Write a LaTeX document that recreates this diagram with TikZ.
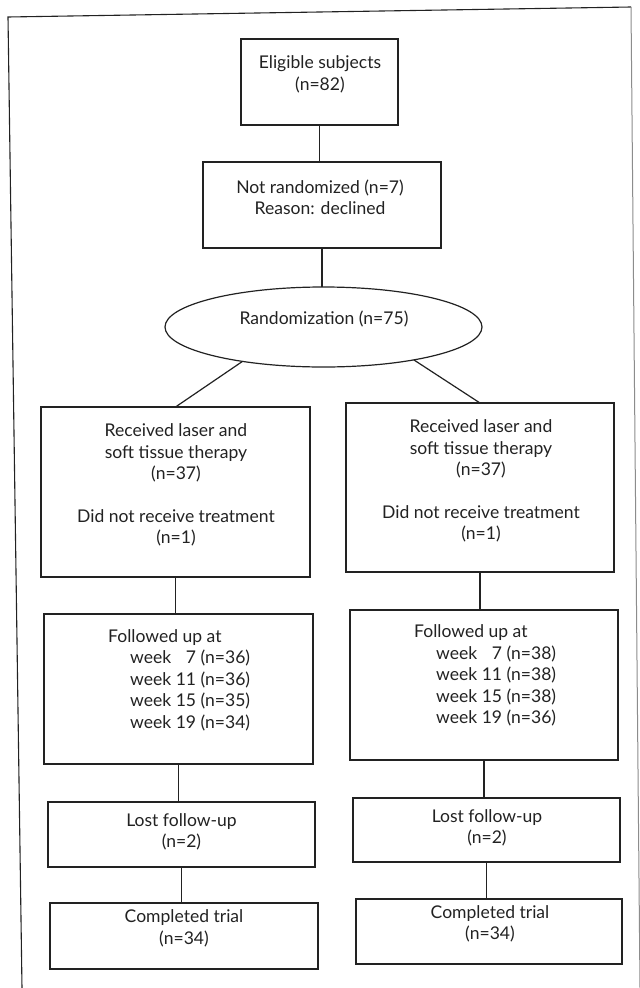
\documentclass[tikz,border=0pt]{standalone}
\usepackage{fontspec}
\setmainfont{Lato}
\usetikzlibrary{shapes.geometric}
\definecolor{ink}{HTML}{222222}
\definecolor{txt}{HTML}{222222}
\begin{document}
\begin{tikzpicture}[x=1bp,y=-1bp,
  box/.style={draw=ink, line width=1.2bp, rectangle, inner sep=0pt, outer sep=0pt},
  oval/.style={draw=ink, line width=1.2bp, ellipse, inner sep=0pt, outer sep=0pt},
  lbl/.style={text=txt, align=center, inner sep=0pt, font=\fontsize{17.6}{21.5}\selectfont},
  lbll/.style={text=txt, align=left, inner sep=0pt, font=\fontsize{17.6}{21.5}\selectfont},
  link/.style={draw=ink, line width=1.2bp}]
\useasboundingbox (0,0) rectangle (640,988);
\fill[white] (0,0) rectangle (640,988);
% outer frame (open at the bottom)
\draw[ink, line width=1.1bp] (22,988) -- (8,17) -- (631,7);
\draw[black!45, line width=1bp] (631,7) -- (640,988);

% boxes
\node[box, minimum width=157bp, minimum height=86bp] (elig) at (319.5,82) {};
\node[box, minimum width=238bp, minimum height=86bp] (notr) at (322,205) {};
\node[oval, minimum width=317bp, minimum height=80bp] (rand) at (323.5,327) {};
\node[box, minimum width=269bp, minimum height=170bp] (L1) at (175.5,492) {};
\node[box, minimum width=268bp, minimum height=169bp] (R1) at (480,487.5) {};
\node[box, minimum width=269bp, minimum height=150bp] (L2) at (178.5,689) {};
\node[box, minimum width=268bp, minimum height=150bp] (R2) at (484,685) {};
\node[box, minimum width=267bp, minimum height=65bp] (L3) at (181.5,834.5) {};
\node[box, minimum width=267bp, minimum height=64bp] (R3) at (486.5,830) {};
\node[box, minimum width=268bp, minimum height=66bp] (L4) at (184,936) {};
\node[box, minimum width=266bp, minimum height=65bp] (R4) at (489,931.5) {};

% texts
\node[lbl] (eligT) at (320,74.5) {Eligible subjects\\(n=82)};
\node[lbl] (notrT) at (320,197.5) {Not randomized (n=7)\\Reason: declined};
\node[lbl] (randT) at (324,319) {Randomization (n=75)};
\node[lbl] (L1T) at (176,485) {Received laser and\\soft tissue therapy\\(n=37)\\[21.5bp]Did not receive treatment\\(n=1)};
\node[lbl] (R1T) at (481,481) {Received laser and\\soft tissue therapy\\(n=37)\\[21.5bp]Did not receive treatment\\(n=1)};
\node[lbll, anchor=west] (L2T) at (108,680) {Followed up at\\\hspace*{22bp}week \hphantom{1}7 (n=36)\\\hspace*{22bp}week 11 (n=36)\\\hspace*{22bp}week 15 (n=35)\\\hspace*{22bp}week 19 (n=34)};
\node[lbll, anchor=west] (R2T) at (414,675.5) {Followed up at\\\hspace*{22bp}week \hphantom{1}7 (n=38)\\\hspace*{22bp}week 11 (n=38)\\\hspace*{22bp}week 15 (n=38)\\\hspace*{22bp}week 19 (n=36)};
\node[lbl] (L3T) at (181.5,832) {Lost follow-up\\(n=2)};
\node[lbl] (R3T) at (487,828) {Lost follow-up\\(n=2)};
\node[lbl] (L4T) at (184,928.5) {Completed trial\\(n=34)};
\node[lbl] (R4T) at (490,924) {Completed trial\\(n=34)};

% connectors
\draw[link] (elig.south) -- (elig.south |- notr.north);
\draw[link] (notr.south) -- (notr.south |- rand.north);
\draw[link] (rand.203.6) -- (L1.north);
\draw[link] (rand.-20) -- (R1.north);
\draw[link] (L1.south) -- (L1.south |- L2.north);
\draw[link] (R1.south) -- (R1.south |- R2.north);
\draw[link] (L2.south) -- (L2.south |- L3.north);
\draw[link] (R2.south) -- (R2.south |- R3.north);
\draw[link] (L3.south) -- (L3.south |- L4.north);
\draw[link] (R3.south) -- (R3.south |- R4.north);
\end{tikzpicture}
\end{document}
